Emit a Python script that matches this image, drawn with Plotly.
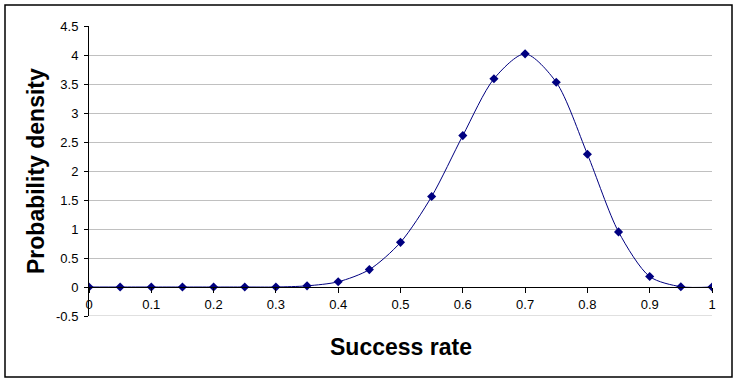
import plotly.graph_objects as go

success_rate = [0.0, 0.05, 0.10, 0.15, 0.20, 0.25, 0.30, 0.35, 0.40, 0.45, 0.50,
                0.55, 0.60, 0.65, 0.70, 0.75, 0.80, 0.85, 0.90, 0.95, 1.0]
density = [0, 0, 0, 0, 0, 0, 0, 0.02, 0.09, 0.30, 0.77,
           1.56, 2.61, 3.59, 4.02, 3.53, 2.29, 0.95, 0.18, 0.005, 0]

x_ticks = [0, 0.1, 0.2, 0.3, 0.4, 0.5, 0.6, 0.7, 0.8, 0.9, 1.0]
x_tick_labels = ["0", "0.1", "0.2", "0.3", "0.4", "0.5", "0.6", "0.7", "0.8", "0.9", "1"]
y_ticks = [-0.5, 0, 0.5, 1, 1.5, 2, 2.5, 3, 3.5, 4, 4.5]
y_tick_labels = ["-0.5", "0", "0.5", "1", "1.5", "2", "2.5", "3", "3.5", "4", "4.5"]

FONT = "Arial, Liberation Sans, sans-serif"
NAVY = "#000080"

fig = go.Figure()
fig.add_trace(go.Scatter(
    x=success_rate, y=density, mode="lines+markers",
    line=dict(color=NAVY, width=1, shape="spline", smoothing=0.8),
    marker=dict(symbol="diamond", size=7, color=NAVY),
    showlegend=False, hoverinfo="x+y",
))

W, H = 739, 383
L, R, T, B = 89, 712, 26, 316
fig.update_layout(
    width=W, height=H,
    margin=dict(l=L, r=W - R, t=T, b=H - B),
    paper_bgcolor="white", plot_bgcolor="white",
    font=dict(family=FONT, size=13, color="black"),
    xaxis=dict(
        range=[0, 1], tickvals=x_ticks, ticktext=x_tick_labels,
        showgrid=False, zeroline=False,
        showline=True, linecolor="black", linewidth=1,
        ticks="outside", ticklen=5, tickcolor="black", tickwidth=1,
        anchor="free", position=0.1,
        tickfont=dict(family=FONT, size=13, color="black"),
    ),
    yaxis=dict(
        range=[-0.5, 4.5], tickvals=y_ticks, ticktext=y_tick_labels,
        showgrid=True, gridcolor="#c0c0c0", gridwidth=1,
        zeroline=False,
        showline=True, linecolor="black", linewidth=1,
        ticks="outside", ticklen=4, tickcolor="black", tickwidth=1,
        ticklabelstandoff=3,
        tickfont=dict(family=FONT, size=13, color="black"),
    ),
    annotations=[
        dict(text="<b>Success rate</b>", xref="paper", yref="paper",
             x=0.5, y=(B - 347) / (B - T), xanchor="center", yanchor="middle",
             showarrow=False, font=dict(family=FONT, size=23, color="black")),
        dict(text="<b>Probability density</b>", xref="paper", yref="paper",
             x=(36 - L) / (R - L), y=0.5, xanchor="center", yanchor="middle",
             textangle=-90, showarrow=False,
             font=dict(family=FONT, size=23, color="black")),
    ],
    shapes=[
        dict(type="rect", xref="paper", yref="paper",
             x0=(5 - L) / (R - L), x1=(732 - L) / (R - L),
             y0=(B - 377) / (B - T), y1=(B - 5) / (B - T),
             line=dict(color="black", width=1.5), fillcolor="rgba(0,0,0,0)",
             layer="below"),
        dict(type="line", xref="paper", yref="y", x0=0, x1=1,
             y0=y_ticks[0], y1=y_ticks[0],
             line=dict(color="#c0c0c0", width=1), layer="below"),
    ],
)

fig.write_html("out.html", config={"displayModeBar": False},
               post_script="document.body.style.margin='0';")
